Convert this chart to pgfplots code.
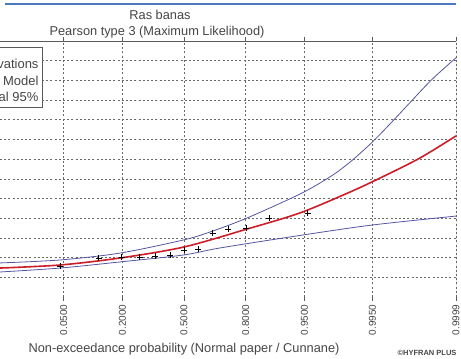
\documentclass[border=0pt]{standalone}
\usepackage{pgfplots}
\pgfplotsset{compat=1.18}
\usepackage{pgfplotstable}
\usepackage{fontspec}
\setmainfont{Liberation Sans}

\definecolor{modelred}{RGB}{205,30,40}
\definecolor{ciblue}{RGB}{85,85,160}
\definecolor{gridgray}{RGB}{105,105,105}
\definecolor{framegray}{RGB}{90,90,90}
\definecolor{textgray}{RGB}{70,70,70}
\definecolor{barblue}{RGB}{75,120,190}

% fitted quantiles: standard normal variate z, value y
\pgfplotstableread{
z y
-2.516 1.47
-1.695 1.625
-0.875 1.98
0.000 2.54
0.861 3.45
1.586 4.27
2.270 5.33
2.680 6.04
3.227 7.06
3.719 8.18
}\modeltab

\pgfplotstableread{
z y
-2.516 1.73
-1.695 1.88
-0.875 2.23
-0.014 2.89
0.355 3.30
0.861 4.01
1.586 5.23
1.996 6.10
2.270 6.85
2.570 7.85
2.858 8.95
3.117 9.98
3.391 11.05
3.719 12.15
}\uppertab

\pgfplotstableread{
z y
-2.516 1.27
-1.695 1.47
-0.875 1.78
-0.014 2.13
0.492 2.49
1.627 3.15
2.584 3.66
3.719 4.11
}\lowertab

% observations, Cunnane plotting positions (n = 13)
\pgfplotstableread{
z y
-1.691 1.57
-1.168 1.98
-0.852 2.03
-0.605 2.03
-0.390 2.08
-0.191 2.13
0.000 2.39
0.191 2.44
0.390 3.25
0.605 3.45
0.852 3.50
1.168 4.01
1.691 4.27
}\obstab

\begin{document}
\begin{tikzpicture}[x=1pt,y=1pt]
\path[use as bounding box, clip] (0,0) rectangle (461,359);
\fill[white] (0,0) rectangle (461,359);
\draw[barblue, line width=1.6pt] (5,355) -- (456,355);

\begin{axis}[
  at={(0pt,62pt)}, anchor=south west,
  width=456pt, height=256pt, scale only axis,
  xmin=-2.516, xmax=3.719, ymin=0, ymax=13,
  xtick={-1.6449,-0.8416,0,0.8416,1.6449,2.5758,3.7190},
  xticklabels={0.0500,0.2000,0.5000,0.8000,0.9500,0.9950,0.9999},
  xticklabel style={rotate=90, anchor=east, font=\fontsize{10}{12}\selectfont, text=textgray},
  ytick={1,...,12}, yticklabels={},
  ytick style={draw=none},
  x tick style={framegray, line width=0.5pt},
  tick align=outside, xtick pos=both,
  major tick length=4pt,
  grid=major,
  major grid style={gridgray, line width=0.6pt, dash pattern=on 2pt off 2.2pt},
  axis line style={draw=none},
  clip=true,
  legend cell align=right,
  legend style={at={(axis description cs:0.094,0.977)}, anchor=north east,
    draw=framegray, line width=0.7pt, fill=white,
    font=\fontsize{13}{15}\selectfont, text=textgray,
    row sep=1.5pt, inner sep=2pt},
]
\addplot[only marks, mark=+, mark size=3pt, black, line width=0.6pt] table {\obstab};
\addlegendentry{\rule{0pt}{17.5pt}Observations}
\addplot[modelred, line width=1.6pt, smooth] table {\modeltab};
\addlegendentry{Model}
\addplot[ciblue, line width=0.8pt, smooth] table {\uppertab};
\addlegendentry{Confidence interval 95\%}
\addplot[ciblue, line width=0.8pt, smooth, forget plot] table {\lowertab};

\draw[framegray, line width=0.8pt] (rel axis cs:0,1) -- (rel axis cs:1,1) -- (rel axis cs:1,0) -- (rel axis cs:0,0);
\end{axis}

% titles and axis caption
\node[text=textgray, font=\fontsize{12.8}{15}\selectfont] at (160,344) {Ras banas};
\node[text=textgray, font=\fontsize{12.8}{15}\selectfont] at (157,327) {Pearson type 3 (Maximum Likelihood)};
\node[text=textgray, font=\fontsize{12.8}{15}\selectfont] at (184,10) {Non-exceedance probability (Normal paper / Cunnane)};
\node[text=textgray, font=\fontsize{7.5}{9}\selectfont\bfseries] at (427,6) {©HYFRAN PLUS};
\end{tikzpicture}
\end{document}
